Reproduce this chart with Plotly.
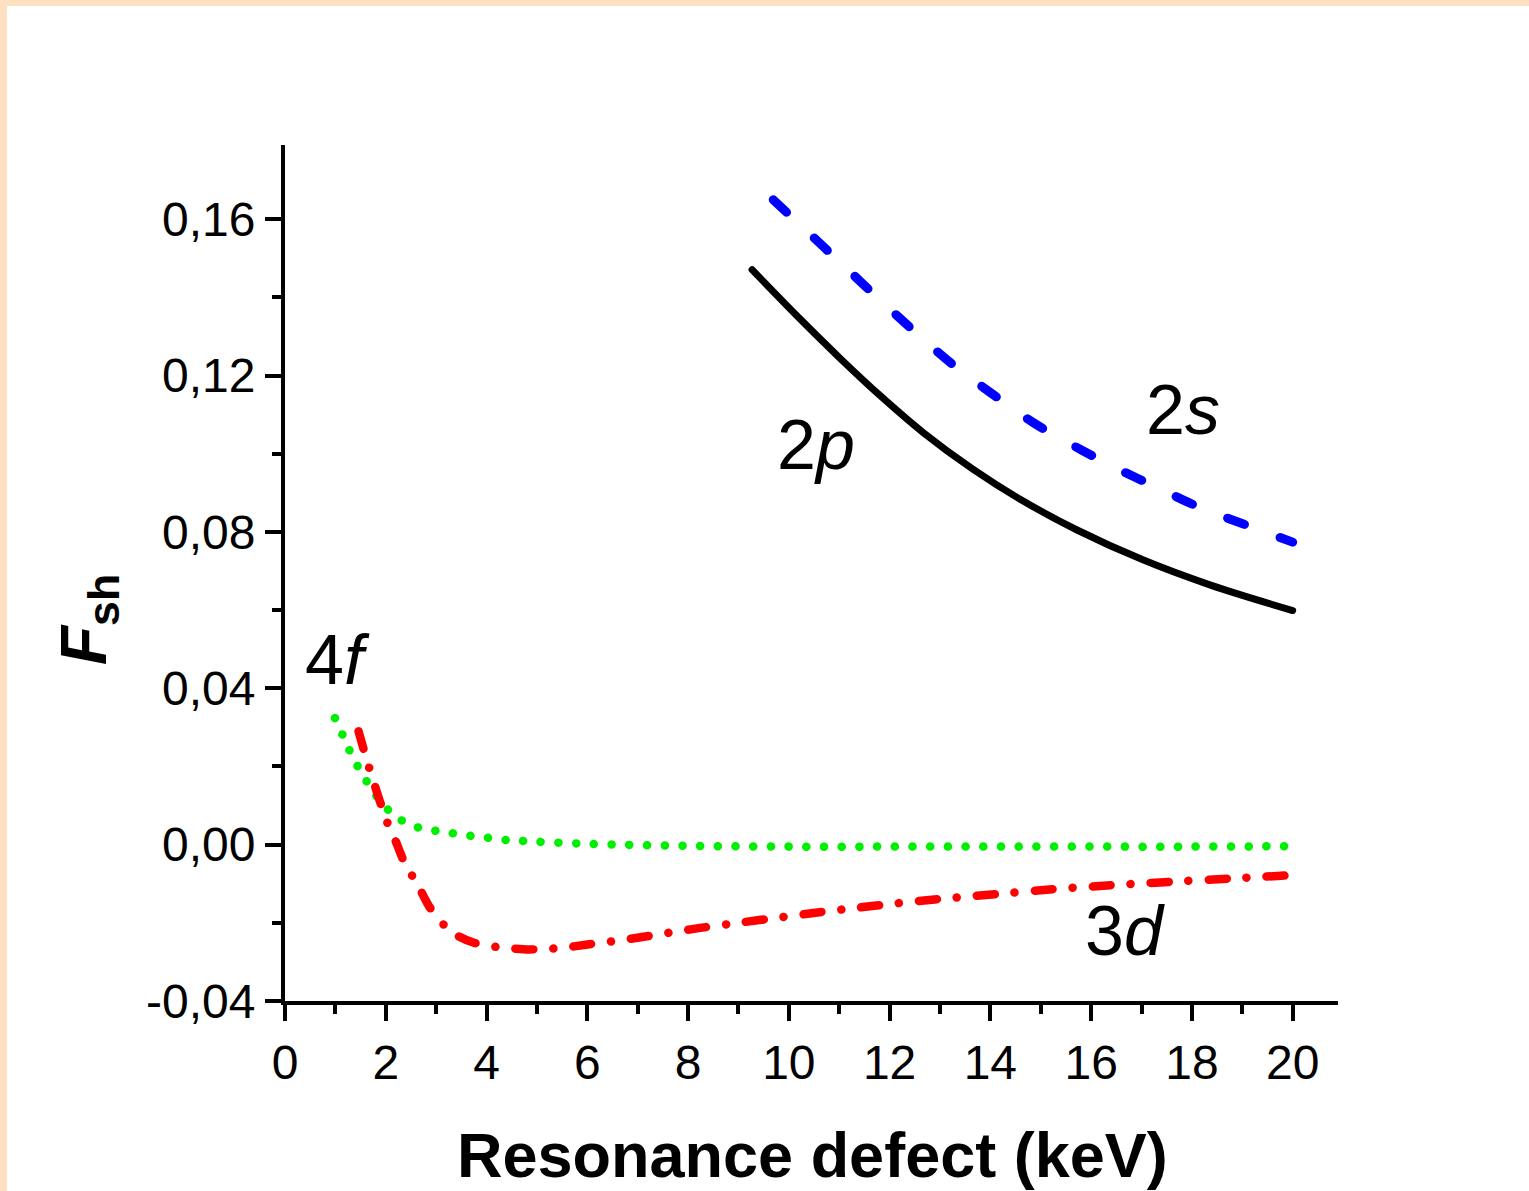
import plotly.graph_objects as go

# ---------------- data ----------------
x_2p = [9.27, 10.23, 11.02, 11.82, 12.67, 13.66, 14.6, 15.72, 17.04, 18.37, 20.0]
y_2p = [0.1471, 0.1344, 0.1244, 0.1148, 0.1054, 0.0960, 0.0883, 0.0805, 0.0728, 0.0664, 0.0599]

x_2s = [9.69, 10.71, 11.55, 12.39, 13.21, 14.04, 14.86, 15.69, 16.52, 17.32, 18.17, 19.01, 20.0]
y_2s = [0.165, 0.1527, 0.1425, 0.1325, 0.1233, 0.1153, 0.1079, 0.1018, 0.0962, 0.0913, 0.0862, 0.0821, 0.0774]

x_4f = [0.99, 1.16, 1.34, 1.56, 1.81, 2.15, 2.52, 2.88, 3.23, 3.59, 3.94, 4.30, 4.65,
        6.0, 8.0, 10.0, 12.0, 14.0, 16.0, 18.0, 20.0]
y_4f = [0.0324, 0.0276, 0.0225, 0.0175, 0.0125, 0.0077, 0.0049, 0.0038, 0.0031, 0.0024, 0.0019, 0.0013, 0.0010,
        0.0002, -0.0003, -0.0005, -0.0005, -0.0005, -0.0005, -0.0005, -0.0004]

x_3d = [1.46, 1.61, 1.85, 2.02, 2.20, 2.36, 2.65, 2.86, 3.18, 3.45, 3.75, 4.05, 4.34, 4.83, 5.16, 5.51, 5.97,
        6.32, 6.65, 7.15, 7.49, 7.85, 8.24, 9.0, 9.83, 10.66, 11.32, 12.15, 12.98, 14.17, 15.23, 16.39,
        17.58, 18.73, 20.0]
y_3d = [0.029, 0.0222, 0.0124, 0.006, 0.0008, -0.0043, -0.0107, -0.0158, -0.0209, -0.0235, -0.0251, -0.0259,
        -0.0264, -0.0268, -0.0267, -0.0264, -0.0256, -0.025, -0.0245, -0.0235, -0.0228, -0.0221, -0.0213,
        -0.02, -0.0186, -0.0172, -0.0162, -0.0150, -0.0139, -0.0126, -0.0114, -0.0104, -0.0095, -0.0087,
        -0.0078]

x_ticks = [0, 2, 4, 6, 8, 10, 12, 14, 16, 18, 20]
x_ticktext = ["0", "2", "4", "6", "8", "10", "12", "14", "16", "18", "20"]
y_ticks = [-0.04, 0.0, 0.04, 0.08, 0.12, 0.16]
y_ticktext = ["-0,04", "0,00", "0,04", "0,08", "0,12", "0,16"]

labels = ["2<i>p</i>", "2<i>s</i>", "4<i>f</i>", "3<i>d</i>"]
label_x = [10.53, 17.82, 1.05, 16.68]
label_y = [0.1023, 0.1113, 0.0473, -0.0222]

x_title = "<b>Resonance defect (keV)</b>"
y_title = "<b><i>F</i><sub>sh</sub></b>"

# ---------------- figure ----------------
FONT = "Liberation Sans, Arial, sans-serif"
W, H = 1529, 1191
ML, MR, MT, MB = 285, 191, 145, 190
PW, PH = W - ML - MR, H - MT - MB


def px_to_paper_x(px):
    return (px - ML) / PW


def px_to_paper_y(py):
    return (H - MB - py) / PH


fig = go.Figure()
fig.add_trace(go.Scatter(x=x_4f, y=y_4f, mode="lines",
                         line=dict(color="#00EE00", width=8.5, dash="0.1px,17.6px", shape="spline")))
fig.add_trace(go.Scatter(x=x_3d, y=y_3d, mode="lines",
                         line=dict(color="#FF0000", width=8.5, dash="18px,20px,0.1px,20px", shape="spline", smoothing=0.6)))
fig.add_trace(go.Scatter(x=x_2p, y=y_2p, mode="lines",
                         line=dict(color="#000000", width=7, shape="spline")))
fig.add_trace(go.Scatter(x=x_2s, y=y_2s, mode="lines",
                         line=dict(color="#0000FF", width=9, dash="18px,38px", shape="spline")))

for t, lx, ly in zip(labels, label_x, label_y):
    fig.add_annotation(x=lx, y=ly, xref="x", yref="y", text=t, showarrow=False,
                       font=dict(family=FONT, size=70, color="black"))

# axis titles
fig.add_annotation(x=px_to_paper_x(812), y=px_to_paper_y(1155), xref="paper", yref="paper",
                   text=x_title, showarrow=False, yanchor="middle",
                   font=dict(family=FONT, size=63, color="black"))
fig.add_annotation(x=px_to_paper_x(46), y=px_to_paper_y(620), xref="paper", yref="paper",
                   text=y_title, textangle=-90, showarrow=False,
                   font=dict(family=FONT, size=64, color="black"))

# peach border strips (top and left)
peach = "#FFE0C3"
fig.add_shape(type="rect", xref="paper", yref="paper", x0=px_to_paper_x(0), x1=px_to_paper_x(W),
              y0=px_to_paper_y(6), y1=px_to_paper_y(0), fillcolor=peach, line=dict(width=0), layer="below")
fig.add_shape(type="rect", xref="paper", yref="paper", x0=px_to_paper_x(0), x1=px_to_paper_x(7),
              y0=px_to_paper_y(H), y1=px_to_paper_y(0), fillcolor=peach, line=dict(width=0), layer="below")

axis_common = dict(showline=True, linecolor="black", linewidth=4, showgrid=False, zeroline=False,
                   ticks="outside", ticklen=16, tickwidth=4, tickcolor="black",
                   tickfont=dict(family=FONT, size=48, color="black"))
fig.update_xaxes(range=[0, 20.9], tickmode="array", tickvals=x_ticks, ticktext=x_ticktext,
                 minor=dict(ticks="outside", dtick=1, tick0=0, ticklen=9, tickwidth=4, tickcolor="black"),
                 **axis_common)
fig.update_yaxes(range=[-0.04, 0.179], tickmode="array", tickvals=y_ticks, ticktext=y_ticktext,
                 minor=dict(ticks="outside", dtick=0.02, tick0=0, ticklen=9, tickwidth=4, tickcolor="black"),
                 **axis_common)

fig.update_layout(width=W, height=H, margin=dict(l=ML, r=MR, t=MT, b=MB, autoexpand=False),
                  paper_bgcolor="white", plot_bgcolor="white", showlegend=False)

js = """
document.body.style.margin = '0';
document.body.style.padding = '0';
var gd = document.getElementById('{plot_id}');
gd.querySelectorAll('.scatterlayer path.js-line').forEach(function(p){
  p.style.strokeLinecap = 'round';
  p.style.strokeLinejoin = 'round';
});
"""
fig.write_html("out.html", post_script=js, config={"displayModeBar": False})
